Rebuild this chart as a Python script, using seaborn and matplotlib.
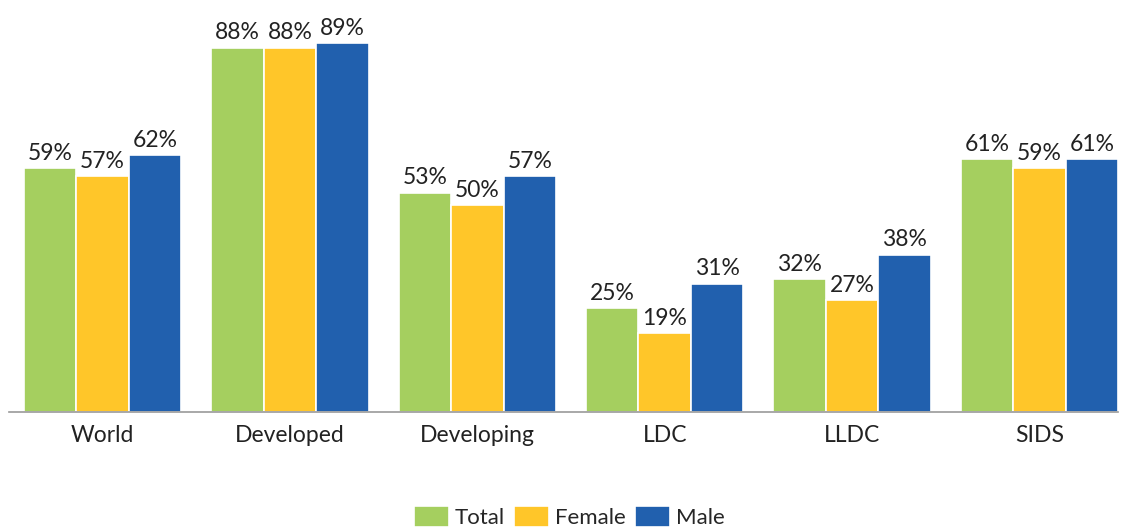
import pandas as pd
import numpy as np
import matplotlib.pyplot as plt
import seaborn as sns

# Données
groups = ['World', 'Developed', 'Developing', 'LDC', 'LLDC', 'SIDS']
total = [59, 88, 53, 25, 32, 61]
female = [57, 88, 50, 19, 27, 59]
male = [62, 89, 57, 31, 38, 61]
series = ['Total', 'Female', 'Male']
colors = ['#A5CF5F', '#FFC629', '#2160AE']

df = pd.DataFrame({
    'group': groups * 3,
    'series': [s for s in series for _ in groups],
    'value': total + female + male,
})

sns.set_theme(style='white')
plt.rcParams['font.family'] = ['Lato', 'DejaVu Sans']

fig = plt.figure(figsize=(11.21, 5.27), dpi=100)
ax = fig.add_axes([9 / 1121, 115 / 527, 1109 / 1121, 412 / 527])

sns.barplot(data=df, x='group', y='value', hue='series', order=groups,
            hue_order=series, palette=colors, width=0.84,
            edgecolor='white', linewidth=1.2, saturation=1, ax=ax)

for cont in ax.containers:
    ax.bar_label(cont, labels=[f'{v:.0f}%' for v in cont.datavalues],
                 padding=3, fontsize=16.5, color='#222222')

ax.set_ylim(0, 99.5)
ax.set_xlim(-0.5, 5.42)
ax.set_xlabel('')
ax.set_ylabel('')
ax.set_yticks([])
ax.tick_params(axis='x', labelsize=16.5, colors='#222222', length=0, pad=9)
for s in ['top', 'left', 'right']:
    ax.spines[s].set_visible(False)
ax.spines['bottom'].set_color('#999999')
ax.spines['bottom'].set_linewidth(1.2)

leg = ax.legend(loc='center', bbox_to_anchor=(0.505, -0.255), ncol=3,
                frameon=False, fontsize=16, handlelength=1.6, handleheight=1.1,
                handletextpad=0.25, columnspacing=0.4)

fig.savefig('out.png', dpi=100)
